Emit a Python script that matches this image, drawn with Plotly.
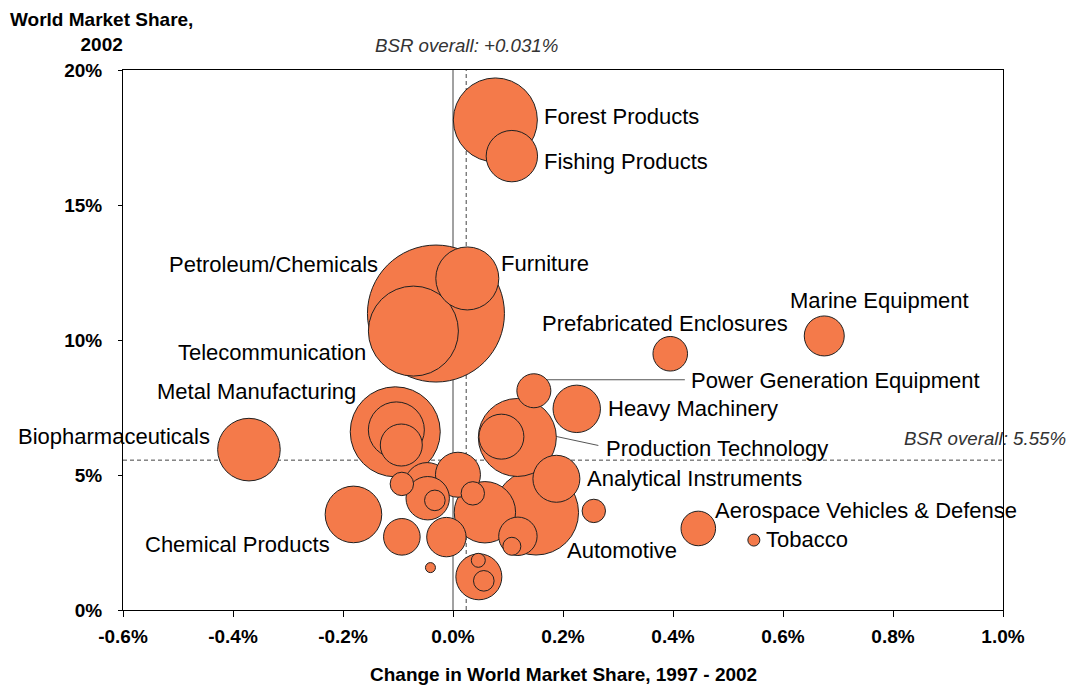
import numpy as np
import plotly.graph_objects as go

# ---------------- data ----------------
clusters = [
    "Forest Products", "Fishing Products", "Petroleum/Chemicals", "Telecommunication",
    "Furniture", "Marine Equipment", "Prefabricated Enclosures", "Power Generation Equipment",
    "Heavy Machinery", "Metal Manufacturing", "Metal (sub 1)", "Metal (sub 2)",
    "Production Technology", "Production (sub)", "Biopharmaceuticals", "Analytical Instruments",
    "Automotive", "Cluster F", "Cluster G", "Cluster G (sub)", "Cluster I",
    "Aerospace Vehicles & Defense", "Tobacco", "Chemical Products", "Cluster J", "Cluster K",
    "Cluster tiny", "Cluster A", "Cluster B", "Cluster B (sub)", "Cluster C", "Cluster D",
    "Cluster E", "Cluster L", "Cluster L (sub 1)", "Cluster L (sub 2)",
]
# change in world market share 1997-2002 (%)
share_change = [
    0.077, 0.107, -0.031, -0.072,
    0.026, 0.675, 0.395, 0.147,
    0.225, -0.105, -0.103, -0.094,
    0.117, 0.088, -0.371, 0.188,
    0.151, 0.058, 0.118, 0.107, 0.256,
    0.446, 0.547, -0.181, -0.093, -0.012,
    -0.041, -0.093, -0.046, -0.033, 0.009, -0.047,
    0.036, 0.047, 0.046, 0.056,
]
# world market share 2002 (%)
market_share = [
    18.15, 16.81, 10.98, 10.33,
    12.28, 10.15, 9.49, 8.12,
    7.45, 6.60, 6.67, 6.11,
    6.39, 6.42, 5.94, 4.86,
    3.61, 3.62, 2.73, 2.36, 3.67,
    3.02, 2.59, 3.54, 2.71, 2.70,
    1.57, 4.67, 4.14, 4.06, 5.01, 4.62,
    4.32, 1.23, 1.84, 1.08,
]
# bubble size (relative cluster employment, area units)
employment = [
    1764, 660, 4692, 2025,
    992, 400, 299, 289,
    562, 2025, 784, 441,
    1521, 506, 980, 552,
    1806, 942, 369, 81, 137,
    299, 36, 801, 335, 388,
    25, 137, 471, 106, 506, 515,
    137, 529, 49, 106,
]

bsr_overall_change = 0.024      # position of the vertical reference line
bsr_overall_change_text = "+0.031%"
bsr_overall_share = 5.55

x_ticks = [-0.6, -0.4, -0.2, 0.0, 0.2, 0.4, 0.6, 0.8, 1.0]
y_ticks = [0, 5, 10, 15, 20]

# ---------------- label placement (layout, pixel offsets) ----------------
label_pos = {
    "Forest Products": ("left", 47, 3),
    "Fishing Products": ("left", 30, -5),
    "Petroleum/Chemicals": ("right", -56, 49),
    "Furniture": ("left", 32, 15),
    "Telecommunication": ("right", -45, -21),
    "Marine Equipment": ("center", 55, 35),
    "Prefabricated Enclosures": ("center", -5, 30),
    "Power Generation Equipment": ("left", 155, 10),
    "Heavy Machinery": ("left", 29, 0),
    "Metal Manufacturing": ("right", -37, 40),
    "Production Technology": ("left", 87, -11),
    "Biopharmaceuticals": ("right", -37, 13),
    "Analytical Instruments": ("left", 29, 0),
    "Aerospace Vehicles & Defense": ("left", 15, 18),
    "Tobacco": ("left", 10, 1),
    "Chemical Products": ("right", -21, -30),
    "Automotive": ("left", 29, -38),
}
leaders = {
    "Power Generation Equipment": (13, 11, 151, 11),
    "Production Technology": (39, 1, 81, -8),
}

FONT = "Liberation Sans, Arial, sans-serif"
FILL = "#F47A4A"

order = np.argsort(-np.array(employment), kind="stable")
xs = np.array(share_change)[order]
ys = np.array(market_share)[order]
ss = np.array(employment)[order]
names = np.array(clusters)[order]

fig = go.Figure()
fig.add_trace(go.Scatter(
    x=xs, y=ys, mode="markers", text=names, hoverinfo="text",
    marker=dict(size=ss, sizemode="area", sizeref=0.5, color=FILL,
                opacity=1, line=dict(color="#202020", width=1)),
    showlegend=False, cliponaxis=False,
))

shapes = [
    dict(type="line", xref="x", yref="y", x0=0, x1=0, y0=0, y1=20,
         line=dict(color="#444444", width=1), layer="below"),
    dict(type="line", xref="x", yref="y", x0=bsr_overall_change, x1=bsr_overall_change,
         y0=0, y1=20, line=dict(color="#444444", width=1, dash="4px,3px"), layer="below"),
    dict(type="line", xref="x", yref="y", x0=-0.6, x1=1.0,
         y0=bsr_overall_share, y1=bsr_overall_share,
         line=dict(color="#444444", width=1, dash="4px,3px"), layer="below"),
]
name_idx = {n: i for i, n in enumerate(clusters)}
for n, (x0, y0, x1, y1) in leaders.items():
    i = name_idx[n]
    shapes.append(dict(type="line", xref="x", yref="y",
                       xsizemode="pixel", xanchor=share_change[i],
                       ysizemode="pixel", yanchor=market_share[i],
                       x0=x0, x1=x1, y0=y0, y1=y1,
                       line=dict(color="#555555", width=1), layer="below"))

annotations = []
for n, (xa, dx, dy) in label_pos.items():
    i = name_idx[n]
    annotations.append(dict(x=share_change[i], y=market_share[i], xref="x", yref="y",
                            text=n, showarrow=False, xanchor=xa, yanchor="middle",
                            xshift=dx, yshift=dy,
                            font=dict(family=FONT, size=22, color="#000000")))
annotations += [
    dict(x=bsr_overall_change, y=1.046, xref="x", yref="paper",
         text="<i>BSR overall: " + bsr_overall_change_text + "</i>", showarrow=False,
         xanchor="center", yanchor="middle",
         font=dict(family=FONT, size=18.7, color="#333333")),
    dict(x=1.074, y=bsr_overall_share, xref="paper", yref="y",
         text="<i>BSR overall: %.2f%%</i>" % bsr_overall_share, showarrow=False,
         xanchor="right", yanchor="middle", yshift=22,
         font=dict(family=FONT, size=18.7, color="#333333")),
    dict(x=-0.024, y=1.07, xref="paper", yref="paper",
         text="<b>World Market Share,<br>2002</b>", showarrow=False,
         xanchor="center", yanchor="middle", align="center",
         font=dict(family=FONT, size=19, color="#000000")),
    dict(x=0.5, y=-0.12, xref="paper", yref="paper",
         text="<b>Change in World Market Share, 1997 - 2002</b>", showarrow=False,
         xanchor="center", yanchor="middle",
         font=dict(family=FONT, size=19, color="#000000")),
]

# the page body adds an 8px offset, so the figure is sized to fit the window
fig.update_layout(
    width=1067, height=680,
    margin=dict(l=115, r=72, t=62, b=78),
    paper_bgcolor="white", plot_bgcolor="white",
    shapes=shapes, annotations=annotations,
    xaxis=dict(range=[-0.6, 1.0], tickvals=x_ticks,
               ticktext=["%.1f%%" % v for v in x_ticks],
               showgrid=False, zeroline=False, showline=True, mirror=True,
               linecolor="#000000", linewidth=1, ticks="outside", ticklen=6,
               tickcolor="#000000", ticklabelstandoff=3,
               tickfont=dict(family=FONT, size=19, color="#000000", weight="bold")),
    yaxis=dict(range=[0, 20], tickvals=y_ticks,
               ticktext=["%d%%" % v for v in y_ticks],
               showgrid=False, zeroline=False, showline=True, mirror=True,
               linecolor="#000000", linewidth=1, ticks="outside", ticklen=4,
               tickcolor="#000000", ticklabelstandoff=12,
               tickfont=dict(family=FONT, size=19, color="#000000", weight="bold")),
)

fig.write_html("out.html")
